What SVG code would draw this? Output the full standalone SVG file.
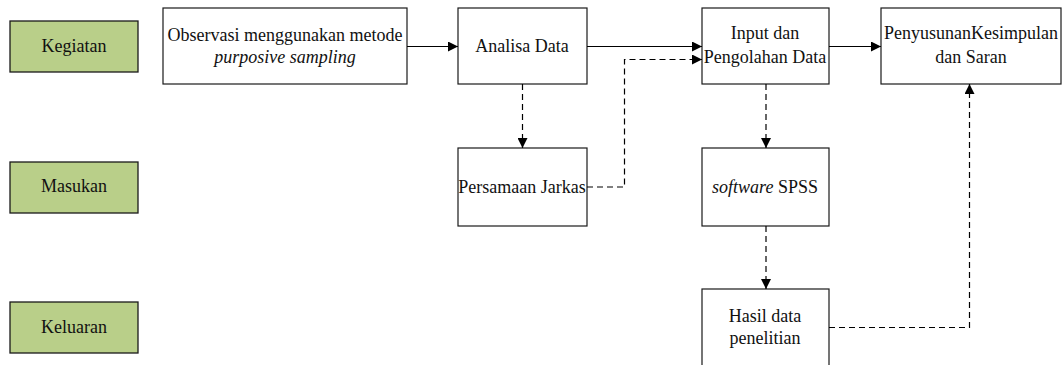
<svg xmlns="http://www.w3.org/2000/svg" width="1064" height="365" viewBox="0 0 1064 365">
<style>
text{font-family:"Liberation Serif","Times New Roman",serif;font-size:18px;fill:#111;text-anchor:middle}
.lab{fill:#b9cf89;stroke:#1a1a1a;stroke-width:1.3}
.box{fill:#fff;stroke:#1a1a1a;stroke-width:1.2}
.c{fill:none;stroke:#000;stroke-width:1.2}
.d{stroke-dasharray:6 4}
</style>
<defs>
<marker id="ah" viewBox="0 0 10 10" refX="10" refY="5" markerWidth="10" markerHeight="10" markerUnits="userSpaceOnUse" orient="auto">
<path d="M0,0 L10,5 L0,10 z" fill="#000"/>
</marker>
</defs>
<g id="kegiatan"><rect class="lab" x="10" y="21" width="128" height="51"/><text x="74" y="52">Kegiatan</text></g>
<g id="masukan"><rect class="lab" x="10" y="162" width="128" height="51"/><text x="74" y="192">Masukan</text></g>
<g id="keluaran"><rect class="lab" x="10" y="302" width="128" height="51"/><text x="74" y="333">Keluaran</text></g>
<g id="observasi"><rect class="box" x="163" y="8" width="244" height="76"/><text x="285" y="41">Observasi menggunakan metode</text><text x="285" y="63" font-style="italic">purposive sampling</text></g>
<g id="analisa"><rect class="box" x="458" y="8" width="129" height="76"/><text x="522" y="52">Analisa Data</text></g>
<g id="input"><rect class="box" x="702" y="8" width="127" height="76"/><text x="765" y="39">Input dan</text><text x="765" y="63">Pengolahan Data</text></g>
<g id="penyusunan"><rect class="box" x="881" y="8" width="180" height="76"/><text x="971" y="39">PenyusunanKesimpulan</text><text x="971" y="63">dan Saran</text></g>
<g id="persamaan"><rect class="box" x="458" y="148" width="129" height="78"/><text x="522" y="193">Persamaan Jarkas</text></g>
<g id="spss"><rect class="box" x="702" y="148" width="127" height="78"/><text x="765" y="193"><tspan font-style="italic">software</tspan> SPSS</text></g>
<g id="hasil"><rect class="box" x="702" y="289" width="127" height="80"/><text x="765" y="322">Hasil data</text><text x="765" y="344">penelitian</text></g>
<g id="connectors">
<path class="c" d="M407,46.5 H458" marker-end="url(#ah)"/>
<path class="c" d="M587,46.5 H702" marker-end="url(#ah)"/>
<path class="c" d="M829,46.5 H881" marker-end="url(#ah)"/>
<path class="c d" d="M522.5,84 V148" marker-end="url(#ah)"/>
<path class="c d" d="M587,187 H624.5 V59.5 H702" marker-end="url(#ah)"/>
<path class="c d" d="M766,84 V148" marker-end="url(#ah)"/>
<path class="c d" d="M766,226 V289" marker-end="url(#ah)"/>
<path class="c d" d="M829,327.5 H969.5 V84" marker-end="url(#ah)"/>
</g>
</svg>
